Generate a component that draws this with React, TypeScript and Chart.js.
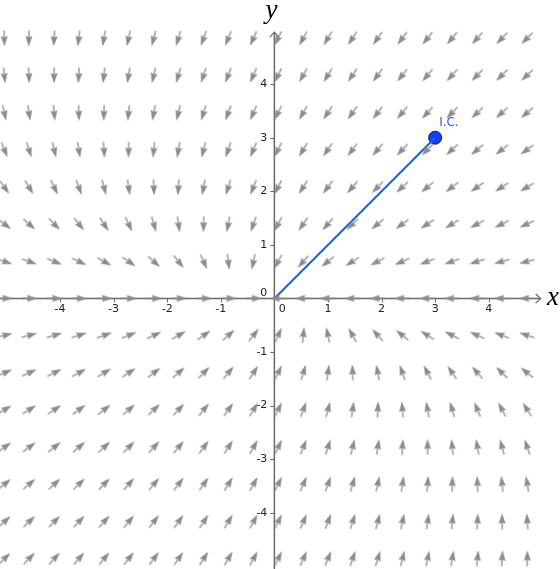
import React, { useEffect, useRef } from "react";
import { Chart, registerables } from "chart.js";

Chart.register(...registerables);

// Direction field grid (data coordinates)
const gridX = [-5.04, -4.58, -4.11, -3.65, -3.18, -2.72, -2.25, -1.79, -1.32, -0.86, -0.39, 0.07, 0.54, 1.0, 1.46, 1.93, 2.39, 2.86, 3.32, 3.79, 4.25, 4.72];
const gridY = [4.86, 4.17, 3.47, 2.78, 2.08, 1.39, 0.69, 0, -0.69, -1.39, -2.08, -2.78, -3.47, -4.17, -4.86];
// Linear system x' = A [x, y]
const systemRowX = [-1, -1];
const systemRowY = [0, -2];

// Trajectory from the initial condition
const trajectoryX = [0, 3];
const trajectoryY = [0, 3];
const icPoint = { x: 3, y: 3 };
const icLabel = "I.C.";

// Axes
const xTicks = [-4, -3, -2, -1, 1, 2, 3, 4];
const yTicks = [4, 3, 2, 1, -1, -2, -3, -4];
const xRange = [-5.12, 5.33];
const yRange = [-5.05, 5.57];
const axisEnd = 4.97;

const arrowPoints: { x: number; y: number }[] = [];
const arrowAngles: number[] = [];
for (const gy of gridY) {
  for (const gx of gridX) {
    const u = systemRowX[0] * gx + systemRowX[1] * gy;
    const v = systemRowY[0] * gx + systemRowY[1] * gy;
    arrowPoints.push({ x: gx, y: gy });
    arrowAngles.push((Math.atan2(u, v) * 180) / Math.PI);
  }
}

const ARROW_COLOR = "rgb(140,140,140)";
const AXIS_COLOR = "rgb(105,105,105)";

function makeArrow(): HTMLCanvasElement {
  const c = document.createElement("canvas");
  c.width = 22;
  c.height = 22;
  const g = c.getContext("2d")!;
  g.translate(11, 11);
  g.fillStyle = ARROW_COLOR;
  g.strokeStyle = ARROW_COLOR;
  g.beginPath();
  g.moveTo(0, -8.5);
  g.lineTo(3.5, 2);
  g.lineTo(0, 0.8);
  g.lineTo(-3.5, 2);
  g.closePath();
  g.fill();
  g.lineWidth = 1.3;
  g.beginPath();
  g.moveTo(0, 1);
  g.lineTo(0, 7.5);
  g.stroke();
  return c;
}

const axesPlugin = {
  id: "customAxes",
  beforeDatasetsDraw(chart: any) {
    const { ctx, chartArea } = chart;
    const sx = chart.scales.x;
    const sy = chart.scales.y;
    const x0 = sx.getPixelForValue(0);
    const y0 = sy.getPixelForValue(0);
    ctx.save();
    ctx.strokeStyle = AXIS_COLOR;
    ctx.lineWidth = 1.5;
    const xe = sx.getPixelForValue(axisEnd);
    const ye = sy.getPixelForValue(axisEnd);
    ctx.beginPath();
    ctx.moveTo(chartArea.left, y0);
    ctx.lineTo(xe, y0);
    ctx.moveTo(x0, chartArea.bottom);
    ctx.lineTo(x0, ye);
    ctx.stroke();
    ctx.lineWidth = 1.2;
    ctx.beginPath();
    ctx.moveTo(xe - 5, y0 - 4.5);
    ctx.lineTo(xe, y0);
    ctx.lineTo(xe - 5, y0 + 4.5);
    ctx.moveTo(x0 - 4.5, ye + 5);
    ctx.lineTo(x0, ye);
    ctx.lineTo(x0 + 4.5, ye + 5);
    ctx.stroke();
    // tick marks
    ctx.lineWidth = 1;
    ctx.beginPath();
    for (const t of xTicks) {
      const px = Math.round(sx.getPixelForValue(t)) + 0.5;
      ctx.moveTo(px, y0);
      ctx.lineTo(px, y0 + 4);
    }
    for (const t of yTicks) {
      const py = Math.round(sy.getPixelForValue(t)) + 0.5;
      ctx.moveTo(x0 - 4, py);
      ctx.lineTo(x0, py);
    }
    ctx.stroke();
    // labels
    ctx.fillStyle = "#222";
    ctx.font = '11px "DejaVu Sans"';
    ctx.textAlign = "center";
    ctx.textBaseline = "middle";
    for (const t of xTicks) {
      ctx.fillText(String(t), sx.getPixelForValue(t), y0 + 11);
    }
    ctx.fillText("0", x0 + 8, y0 + 11);
    ctx.textAlign = "right";
    for (const t of yTicks) {
      ctx.fillText(String(t), x0 - 7, sy.getPixelForValue(t));
    }
    ctx.fillText("0", x0 - 7, y0 - 5);
    // axis titles
    ctx.fillStyle = "#000";
    ctx.font = 'italic 27px "Liberation Serif"';
    ctx.textAlign = "center";
    ctx.textBaseline = "alphabetic";
    ctx.fillText("x", chartArea.right - 7, y0 + 7);
    ctx.fillText("y", x0 - 3, chartArea.top + 18);
    ctx.restore();
  },
  afterDatasetsDraw(chart: any) {
    const { ctx } = chart;
    const px = chart.scales.x.getPixelForValue(icPoint.x);
    const py = chart.scales.y.getPixelForValue(icPoint.y);
    ctx.save();
    ctx.fillStyle = "rgb(45,85,255)";
    ctx.font = '12px "DejaVu Sans"';
    ctx.textAlign = "left";
    ctx.textBaseline = "middle";
    ctx.fillText(icLabel, px + 4, py - 15);
    ctx.restore();
  },
};

export default function App() {
  const ref = useRef<HTMLCanvasElement | null>(null);
  useEffect(() => {
    if (!ref.current) return;
    const arrow = makeArrow();
    const chart = new Chart(ref.current, {
      type: "scatter",
      data: {
        datasets: [
          {
            data: arrowPoints,
            pointStyle: arrow as any,
            pointRadius: 3,
            pointRotation: (c: any) => arrowAngles[c.dataIndex],
            showLine: false,
          } as any,
          {
            type: "line",
            data: trajectoryX.map((x, i) => ({ x, y: trajectoryY[i] })),
            borderColor: "rgb(22,98,214)",
            borderWidth: 2,
            pointRadius: 0,
            fill: false,
          } as any,
          {
            data: [icPoint],
            pointRadius: 6.5,
            pointBackgroundColor: "rgb(18,62,255)",
            pointBorderColor: "rgb(25,25,45)",
            pointBorderWidth: 1,
          } as any,
        ],
      },
      options: {
        responsive: false,
        animation: false,
        events: [],
        layout: { padding: 0, autoPadding: false },
        plugins: { legend: { display: false }, tooltip: { enabled: false } },
        scales: {
          x: { type: "linear", min: xRange[0], max: xRange[1], display: false },
          y: { type: "linear", min: yRange[0], max: yRange[1], display: false },
        },
      },
      plugins: [axesPlugin],
    });
    return () => chart.destroy();
  }, []);
  return (
    <div style={{ position: "fixed", left: 0, top: 0, width: 560, height: 569, background: "#fff" }}>
      <canvas ref={ref} width={560} height={569} style={{ display: "block" }} />
    </div>
  );
}
